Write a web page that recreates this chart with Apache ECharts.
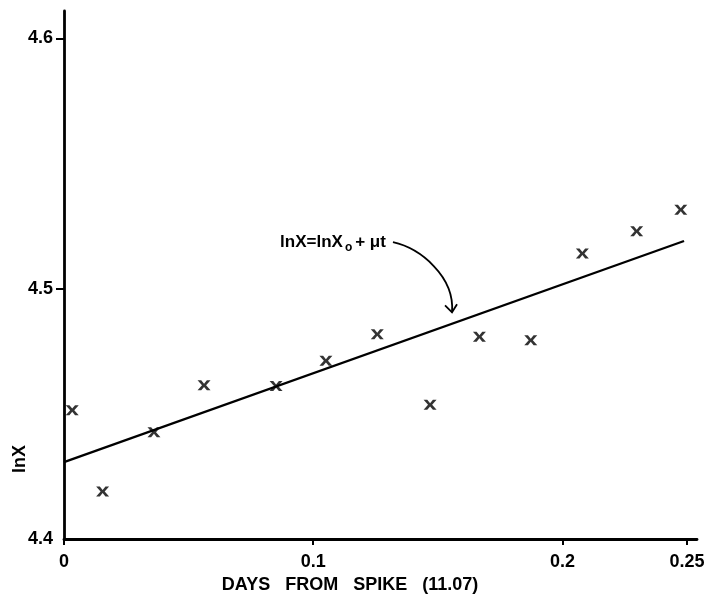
<!DOCTYPE html>
<html><head><meta charset="utf-8">
<script src="https://cdn.jsdelivr.net/npm/echarts@6/dist/echarts.min.js"></script>
<style>html,body{margin:0;padding:0;background:#fff}#c{width:712px;height:600px}</style>
</head><body><div id="c"></div>
<script>
// Data
const days = [0.0033, 0.0155, 0.0361, 0.0562, 0.0851, 0.1051, 0.1257, 0.1469, 0.1667, 0.1873, 0.2080, 0.2298, 0.2475];
const lnX  = [4.4515, 4.4190, 4.4427, 4.4614, 4.4611, 4.4712, 4.4818, 4.4536, 4.4808, 4.4794, 4.5141, 4.5230, 4.5316];
const fitDays = [0, 0.2488];
const fitLnX  = [4.4307, 4.5191];
const xTicks = [0, 0.1, 0.2, 0.25];
const xTickLabels = ['0', '0.1', '0.2', '0.25'];
const yTicks = [4.4, 4.5, 4.6];
const yTickLabels = ['4.4', '4.5', '4.6'];
const xTitle = 'DAYS   FROM   SPIKE   (11.07)';
const yTitle = 'lnX';

const FONT = 'Liberation Sans';
const labelFor = (ticks, labels) => v => {
  let best = 0;
  ticks.forEach((t, i) => { if (Math.abs(t - v) < Math.abs(ticks[best] - v)) best = i; });
  return labels[best];
};

const chart = echarts.init(document.getElementById('c'), null, {renderer: 'canvas'});
const xMark = 'path://M0,0 L3.4,0 L6,3.1 L8.6,0 L12,0 L7.9,4.5 L12,9 L8.6,9 L6,5.9 L3.4,9 L0,9 L4.1,4.5 Z';

chart.setOption({
  backgroundColor: '#fff',
  animation: false,
  grid: {left: 64, right: 15, top: 11, bottom: 61, containLabel: false},
  xAxis: {
    type: 'value', min: 0, max: 0.254,
    axisLine: {show: true, onZero: false, lineStyle: {color: '#000', width: 2.8}},
    axisTick: {show: true, inside: false, length: 6, customValues: xTicks, lineStyle: {color: '#000', width: 2}},
    axisLabel: {customValues: xTicks, formatter: labelFor(xTicks, xTickLabels), margin: 14,
      color: '#000', fontFamily: FONT, fontWeight: 'bold', fontSize: 18},
    splitLine: {show: false}
  },
  yAxis: {
    type: 'value', min: 4.4, max: 4.611,
    axisLine: {show: true, onZero: false, lineStyle: {color: '#000', width: 2.8}},
    axisTick: {show: true, inside: false, length: 8, customValues: [4.5, 4.6], lineStyle: {color: '#000', width: 2}},
    axisLabel: {customValues: yTicks, formatter: labelFor(yTicks, yTickLabels), margin: 11,
      color: '#000', fontFamily: FONT, fontWeight: 'bold', fontSize: 18},
    splitLine: {show: false}
  },
  series: [
    {
      type: 'line',
      data: fitDays.map((d, i) => [d, fitLnX[i]]),
      symbol: 'none',
      lineStyle: {color: '#000', width: 2.3},
      z: 2
    },
    {
      type: 'scatter',
      data: days.map((d, i) => [d, lnX[i]]),
      symbol: xMark,
      symbolSize: [13, 10],
      itemStyle: {color: '#000'},
      z: 3
    }
  ]
});

// Annotations anchored in data coordinates
const tip = chart.convertToPixel({gridIndex: 0}, [0.1557, 4.4906]);
const start = chart.convertToPixel({gridIndex: 0}, [0.1320, 4.5186]);
const textAnchor = chart.convertToPixel({gridIndex: 0}, [0.0867, 4.5186]);

chart.setOption({
  graphic: [
    {
      type: 'text', x: textAnchor[0], y: textAnchor[1],
      style: {
        text: '{a|lnX=lnX}{s|o}{a|+ μt}',
        textAlign: 'left', textVerticalAlign: 'middle',
        rich: {
          a: {fontFamily: FONT, fontSize: 17, fontWeight: 'bold', fill: '#000'},
          s: {fontFamily: FONT, fontSize: 12, fontWeight: 'bold', fill: '#000', padding: [10, 3, 0, 2]}
        }
      }
    },
    {
      type: 'bezierCurve',
      shape: {x1: start[0], y1: start[1], cpx1: start[0] + 27, cpy1: start[1] + 6,
              cpx2: tip[0] + 3, cpy2: tip[1] - 36, x2: tip[0], y2: tip[1]},
      style: {stroke: '#000', lineWidth: 1.8, fill: null}
    },
    {
      type: 'polyline',
      shape: {points: [[tip[0] - 7, tip[1] - 7], [tip[0], tip[1]], [tip[0] + 5, tip[1] - 8]]},
      style: {stroke: '#000', lineWidth: 1.8, fill: null}
    },
    {
      type: 'text', x: 350, y: 585,
      style: {text: xTitle, fontFamily: FONT, fontSize: 18, fontWeight: 'bold', fill: '#000',
        textAlign: 'center', textVerticalAlign: 'middle'}
    },
    {
      type: 'text', x: 20, y: 459, rotation: Math.PI / 2,
      style: {text: yTitle, fontFamily: FONT, fontSize: 18, fontWeight: 'bold', fill: '#000',
        textAlign: 'center', textVerticalAlign: 'middle'}
    }
  ]
});
</script>
</body></html>
